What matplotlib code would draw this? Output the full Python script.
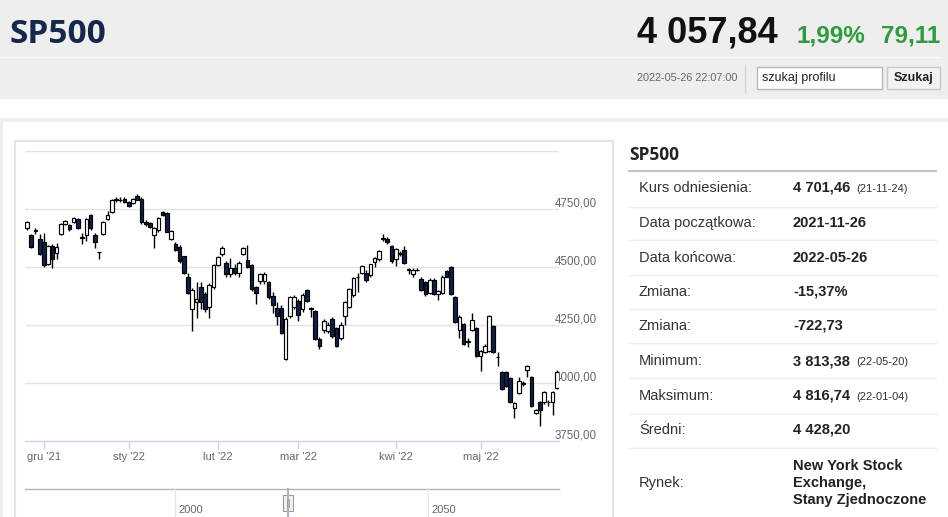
import matplotlib.pyplot as plt
from matplotlib.patches import Rectangle
import matplotlib.transforms as mtransforms

plt.rcParams['font.family'] = ['Liberation Sans', 'DejaVu Sans']

W, H = 948, 517

# dzienne notowania SP500, 2021-11-26 .. 2022-05-26
opens = [4666, 4636, 4659, 4621, 4609, 4511, 4592, 4559, 4644, 4687,
         4679, 4692, 4706, 4629, 4636, 4724, 4636, 4565, 4644, 4707,
         4737, 4792, 4790, 4794, 4780, 4776, 4807, 4794, 4693, 4688,
         4640, 4658, 4737, 4733, 4622, 4601, 4588, 4546, 4457, 4317,
         4347, 4413, 4383, 4327, 4414, 4507, 4555, 4516, 4469, 4497,
         4472, 4555, 4529, 4507, 4413, 4439, 4441, 4435, 4377, 4324,
         4324, 4103, 4290, 4327, 4352, 4317, 4400, 4325, 4309, 4189,
         4228, 4223, 4276, 4237, 4193, 4290, 4326, 4378, 4459, 4476,
         4474, 4467, 4520, 4533, 4626, 4619, 4589, 4533, 4559, 4574,
         4491, 4468, 4489, 4450, 4437, 4387, 4446, 4383, 4387, 4481,
         4498, 4370, 4228, 4255, 4180, 4228, 4237, 4117, 4134, 4138,
         4245, 4112, 4047, 4047, 4021, 3892, 3959, 3999, 4056, 4025,
         3870, 3918, 3918, 3918, 3918, 3978]
highs = [4697, 4641, 4669, 4643, 4646, 4596, 4601, 4605, 4689, 4703,
         4686, 4715, 4712, 4646, 4712, 4728, 4646, 4566, 4697, 4742,
         4794, 4800, 4802, 4800, 4784, 4798, 4816.74, 4800, 4701, 4693,
         4671, 4716, 4742, 4737, 4661, 4606, 4596, 4549, 4473, 4409,
         4437, 4437, 4392, 4429, 4511, 4547, 4589, 4524, 4539, 4514,
         4524, 4585, 4594, 4514, 4417, 4474, 4479, 4439, 4392, 4351,
         4336, 4284, 4377, 4379, 4362, 4387, 4405, 4329, 4313, 4200,
         4276, 4261, 4286, 4243, 4261, 4352, 4409, 4459, 4474, 4507,
         4489, 4514, 4541, 4572, 4641, 4631, 4594, 4581, 4567, 4589,
         4497, 4495, 4495, 4455, 4441, 4451, 4451, 4400, 4464, 4485,
         4503, 4374, 4291, 4260, 4193, 4301, 4241, 4143, 4166, 4294,
         4250, 4134, 4051, 4051, 4025, 3918, 4025, 4008, 4078, 4029,
         3887, 3923, 3966, 3926, 3966, 4058]
lows = [4661, 4581, 4643, 4551, 4502, 4507, 4494, 4534, 4639, 4683,
        4657, 4689, 4664, 4601, 4614, 4661, 4583, 4534, 4639, 4702,
        4734, 4782, 4780, 4774, 4758, 4772, 4787, 4687, 4676, 4666,
        4583, 4651, 4720, 4649, 4618, 4569, 4519, 4469, 4382, 4223,
        4281, 4317, 4307, 4281, 4407, 4503, 4549, 4459, 4459, 4464,
        4459, 4551, 4494, 4397, 4342, 4427, 4427, 4362, 4303, 4250,
        4210, 4098, 4282, 4317, 4266, 4307, 4347, 4286, 4185, 4145,
        4215, 4215, 4195, 4155, 4185, 4251, 4322, 4372, 4392, 4469,
        4434, 4459, 4499, 4524, 4611, 4601, 4519, 4504, 4549, 4514,
        4469, 4459, 4481, 4395, 4377, 4383, 4379, 4357, 4383, 4455,
        4379, 4260, 4193, 4163, 4155, 4223, 4113, 4051, 4129, 4133,
        4129, 4073, 3968, 3981, 3914, 3848, 3953, 3988, 4025, 3897,
        3866, 3813.38, 3911, 3901, 3861, 3973]
closes = [4692, 4588, 4657, 4556, 4507, 4592, 4534, 4588, 4684, 4697,
          4662, 4710, 4666, 4626, 4706, 4666, 4609, 4564, 4692, 4724,
          4789, 4790, 4787, 4780, 4763, 4794, 4790, 4692, 4684, 4671,
          4666, 4711, 4724, 4653, 4657, 4575, 4524, 4476, 4387, 4400,
          4362, 4347, 4317, 4422, 4507, 4542, 4581, 4468, 4494, 4472,
          4516, 4581, 4499, 4405, 4387, 4469, 4469, 4369, 4335, 4289,
          4215, 4278, 4370, 4370, 4294, 4379, 4352, 4317, 4189, 4158,
          4268, 4251, 4202, 4158, 4251, 4347, 4405, 4454, 4456, 4503,
          4446, 4511, 4537, 4568, 4621, 4606, 4524, 4577, 4557, 4519,
          4487, 4489, 4487, 4400, 4383, 4446, 4383, 4395, 4459, 4459,
          4383, 4264, 4286, 4167, 4177, 4273, 4117, 4138, 4161, 4290,
          4134, 4110, 3973, 3986, 3918, 3914, 4007, 3997, 4073, 3901,
          3883, 3883, 3961, 3916, 3961, 4048]

month_ticks = [4, 24, 45, 64, 87, 107]
month_labels = ["gru '21", "sty '22", "lut '22", "mar '22", "kwi '22", "maj '22"]
price_grid = [4000, 4250, 4500, 4750, 5000]
price_ticks = [3750, 4000, 4250, 4500, 4750]
price_labels = ["3750,00", "4000,00", "4250,00", "4500,00", "4750,00"]

row_labels = ["Kurs odniesienia:", "Data początkowa:", "Data końcowa:", "Zmiana:",
              "Zmiana:", "Minimum:", "Maksimum:", "Średni:", "Rynek:"]
row_values = ["4 701,46", "2021-11-26", "2022-05-26", "-15,37%", "-722,73",
              "3 813,38", "4 816,74", "4 428,20",
              "New York Stock\nExchange,\nStany Zjednoczone"]
row_notes = ["(21-11-24)", "", "", "", "", "(22-05-20)", "(22-01-04)", "", ""]

fig = plt.figure(figsize=(W / 100, H / 100), dpi=100)
fig.patch.set_facecolor('white')

# tlo strony w pikselach
bg = fig.add_axes([0, 0, 1, 1])
bg.set_xlim(0, W)
bg.set_ylim(H, 0)
bg.axis('off')

bg.add_patch(Rectangle((0, 0), W, 99, fc='#eeeeee', ec='none'))
bg.plot([0, 940], [57, 57], color='#f8f8f8', lw=1)
bg.add_patch(Rectangle((0, 118), W, 4, fc='#eeeeee', ec='none'))
bg.add_patch(Rectangle((0, 118), 3, H, fc='#eeeeee', ec='none'))
bg.add_patch(Rectangle((15, 141), 598, 420, fc='white', ec='#e4e4e4', lw=1.5))

bg.text(10, 43, "SP500", fontsize=24, fontweight='bold', family=['Open Sans', 'DejaVu Sans'],
        color='#15284a', va='baseline')
bg.text(778, 43, "4 057,84", fontsize=26, fontweight='bold', color='#111111',
        ha='right', va='baseline')
bg.text(797, 42, "1,99%", fontsize=17.5, fontweight='bold', color='#2f9b3e', va='baseline')
bg.text(940, 42, "79,11", fontsize=17.5, fontweight='bold', color='#2f9b3e',
        ha='right', va='baseline')

bg.text(637, 78, "2022-05-26 22:07:00", fontsize=7.8, color='#666666', va='center')
bg.plot([745, 745], [65, 92], color='#d6d6d6', lw=1)
bg.add_patch(Rectangle((757, 67), 125, 22, fc='white', ec='#b8b8b8', lw=1))
bg.text(762, 78, "szukaj profilu", fontsize=9, color='#222222', va='center')
bg.add_patch(Rectangle((887, 67), 53, 22, fc='#f3f3f3', ec='#c8c8c8', lw=1))
bg.text(913.5, 78, "Szukaj", fontsize=9, fontweight='bold', color='#222222',
        ha='center', va='center')

# tabela po prawej
bg.text(629, 155, "SP500", fontsize=12.5, fontweight='bold', family=['Open Sans', 'DejaVu Sans'],
        color='#222222', va='center')
bg.plot([629, 936], [171, 171], color='#c4c4c4', lw=1.5)
row_y = [188, 223, 258, 292, 326, 361, 396, 430, 483]
sep_y = [206.5, 240, 275, 309, 343, 378, 414, 448]
for yy in sep_y:
    bg.plot([629, 936], [yy, yy], color='#eeeeee', lw=1)
for lab, val, note, yy in zip(row_labels, row_values, row_notes, row_y):
    bg.text(639, yy, lab, fontsize=10.5, color='#333333', va='center')
    bg.text(793, yy, val, fontsize=10.5, fontweight='bold', color='#222222',
            va='center', linespacing=1.25)
    if note:
        bg.text(856, yy + 1, note, fontsize=8, color='#333333', va='center')

# nawigator
bg.plot([25, 559], [489, 489], color='#b3b3b3', lw=1)
for xx, yr in zip([175, 428], ["2000", "2050"]):
    bg.plot([xx, xx], [489, H], color='#e6e6e6', lw=1)
    bg.text(xx + 3, 510, yr, fontsize=8, color='#666666', va='center')
bg.plot([288, 288], [489, H], color='#aab4cc', lw=1.5)
bg.add_patch(Rectangle((283, 495), 10, 16, fc='#f2f2f2', ec='#999999', lw=0.8))
bg.plot([287, 287], [499, 507], color='#999999', lw=0.6)
bg.plot([289, 289], [499, 507], color='#999999', lw=0.6)

# wykres swiecowy
ax = fig.add_axes([25 / W, 1 - 441 / H, 534 / W, 290 / H])
ax.patch.set_alpha(0)
ax.set_xlim(-0.47, 125.5)
ax.set_ylim(3750, 5000)
for s in ['top', 'right', 'left']:
    ax.spines[s].set_visible(False)
ax.spines['bottom'].set_color('#ccd6eb')
ax.spines['bottom'].set_linewidth(1)

for g in price_grid:
    ax.axhline(g, color='#e3e3e3', lw=1, zorder=0)

idx = list(range(len(closes)))
ax.vlines(idx, lows, highs, color='black', lw=1.0, zorder=2)
bottoms = [min(o, c) for o, c in zip(opens, closes)]
heights = [max(abs(c - o), 2) for o, c in zip(opens, closes)]
fills = ['white' if c >= o else '#0d2146' for o, c in zip(opens, closes)]
ax.bar(idx, heights, bottom=bottoms, width=0.86, color=fills, edgecolor='black',
       linewidth=0.85, zorder=3)

ax.set_yticks([])
ax.set_xticks(month_ticks, month_labels)
ax.tick_params(axis='x', length=6, width=1, color='#ccd6eb', labelsize=8,
               labelcolor='#666666', pad=2)

trans = mtransforms.blended_transform_factory(ax.transAxes, ax.transData)
trans = mtransforms.offset_copy(trans, fig=fig, x=0, y=2.5, units='dots')
for v, lab in zip(price_ticks, price_labels):
    ax.text((555 - 25) / 534, v, lab, transform=trans, fontsize=8.3, color='#666666',
            ha='left', va='baseline', clip_on=False, zorder=1)

plt.savefig('out.png', dpi=100)
